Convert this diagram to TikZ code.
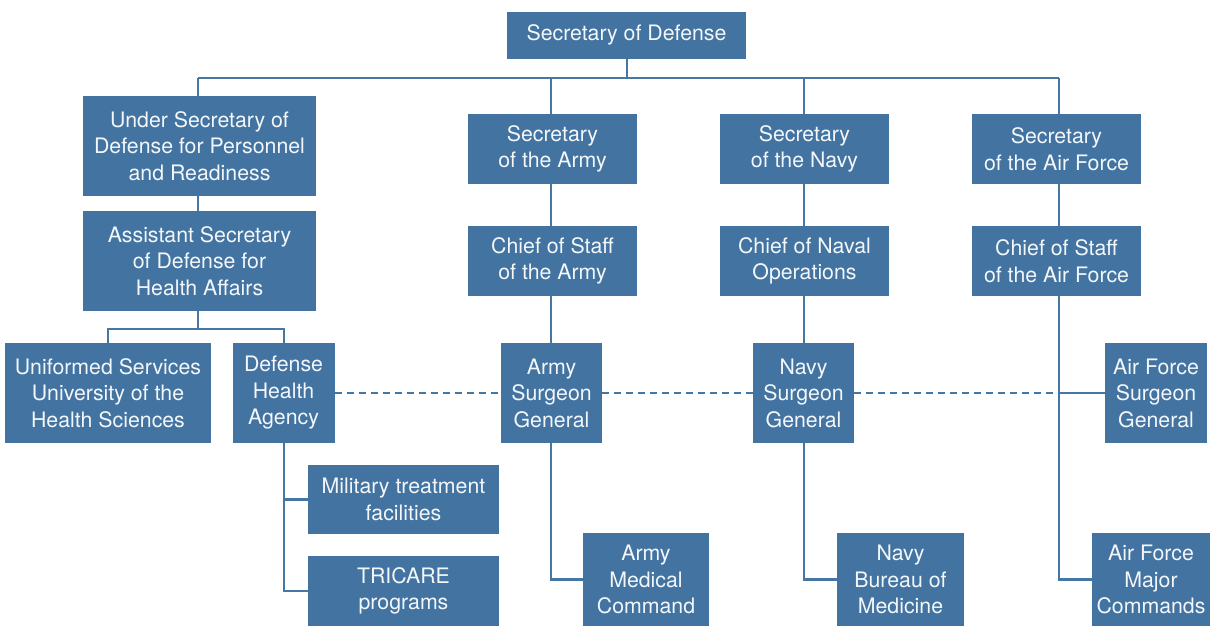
\documentclass[tikz,border=0pt]{standalone}
\usepackage{fontspec}
\setmainfont{TeX Gyre Heros}
\definecolor{boxblue}{HTML}{4273A1}
\definecolor{lineblue}{HTML}{4677A4}
\definecolor{boxtext}{HTML}{F4F7FA}
\begin{document}
\begin{tikzpicture}[x=1pt,y=-1pt,
  orgbox/.style={fill=boxblue, draw=none, text=boxtext, align=center, inner sep=0pt,
    font=\fontsize{21.3}{26.5}\selectfont},
  link/.style={draw=lineblue, line width=2.4pt},
  dotlink/.style={draw=lineblue, line width=2.4pt, dash pattern=on 7pt off 5pt}]
\useasboundingbox (0,0) rectangle (1215,627);

% top level
\node[orgbox, minimum width=239pt, minimum height=47pt] (sod) at (626.5,35) {Secretary of Defense};

% personnel and health branch
\node[orgbox, minimum width=233pt, minimum height=100pt] (usd) at (199.5,146) {Under Secretary of\\Defense for Personnel\\and Readiness};
\node[orgbox, minimum width=233pt, minimum height=100pt] (asd) at (199.5,261) {Assistant Secretary\\of Defense for\\Health Affairs};
\node[orgbox, minimum width=206pt, minimum height=100pt] (usu) at (108,393) {Uniformed Services\\University of the\\Health Sciences};
\node[orgbox, minimum width=102pt, minimum height=100pt] (dha) at (283.5,393) {Defense\\Health\\Agency};
\node[orgbox, minimum width=191pt, minimum height=69pt] (mtf) at (403.5,499.5) {Military treatment\\facilities};
\node[orgbox, minimum width=191pt, minimum height=70pt] (tri) at (403.5,591) {TRICARE\\programs};

% army
\node[orgbox, minimum width=169pt, minimum height=70pt] (sa) at (552.5,149) {Secretary\\of the Army};
\node[orgbox, minimum width=169pt, minimum height=70pt] (csa) at (552.5,261) {Chief of Staff\\of the Army};
\node[orgbox, minimum width=101pt, minimum height=100pt] (asg) at (551.5,393) {Army\\Surgeon\\General};
\node[orgbox, minimum width=126pt, minimum height=93pt] (amc) at (646,579.5) {Army\\Medical\\Command};

% navy
\node[orgbox, minimum width=169pt, minimum height=70pt] (sn) at (804.5,149) {Secretary\\of the Navy};
\node[orgbox, minimum width=169pt, minimum height=70pt] (cno) at (804.5,261) {Chief of Naval\\Operations};
\node[orgbox, minimum width=101pt, minimum height=100pt] (nsg) at (803.5,393) {Navy\\Surgeon\\General};
\node[orgbox, minimum width=127pt, minimum height=93pt] (bum) at (900.5,579.5) {Navy\\Bureau of\\Medicine};

% air force
\node[orgbox, minimum width=169pt, minimum height=70pt] (saf) at (1056.5,149) {Secretary\\of the Air Force};
\node[orgbox, minimum width=169pt, minimum height=70pt] (csaf) at (1056.5,261) {Chief of Staff\\of the Air Force};
\node[orgbox, minimum width=102pt, minimum height=100pt] (afsg) at (1156,393) {Air Force\\Surgeon\\General};
\node[orgbox, minimum width=118pt, minimum height=93pt] (afmc) at (1151,579.5) {Air Force\\Major\\Commands};

% column lines and buses
\coordinate (armyx) at (551,0);
\coordinate (navyx) at (804,0);
\coordinate (afx) at (1059,0);
\coordinate (busL) at (198,78);
\coordinate (busR) at (afx |- busL);
\coordinate (hbus) at (198,329);

\draw[link] (busL) -- (busR);
\draw[link] (sod.south -| 627,0) -- (627,78);
\draw[link] (busL) -- (usd.north -| busL);
\draw[link] (armyx |- busL) -- (sa.north -| armyx);
\draw[link] (navyx |- busL) -- (sn.north -| navyx);
\draw[link] (busR) -- (saf.north -| afx);

\draw[link] (usd.south -| hbus) -- (asd.north -| hbus);
\draw[link] (asd.south -| hbus) -- (hbus);
\draw[link] (usu.north) |- (hbus) -| (dha.north -| 284,0);
\draw[link] (dha.south -| 284,0) |- (tri.west);
\draw[link] (mtf.west -| 284,0) -- (mtf.west);

\draw[link] (sa.south -| armyx) -- (csa.north -| armyx);
\draw[link] (csa.south -| armyx) -- (asg.north -| armyx);
\draw[link] (asg.south -| armyx) |- (amc.west);

\draw[link] (sn.south -| navyx) -- (cno.north -| navyx);
\draw[link] (cno.south -| navyx) -- (nsg.north -| navyx);
\draw[link] (nsg.south -| navyx) |- (bum.west);

\draw[link] (saf.south -| afx) -- (csaf.north -| afx);
\draw[link] (csaf.south -| afx) |- (afmc.west);
\coordinate (afjoin) at (afx |- afsg.west);
\draw[link] (afjoin) -- (afsg.west);

\draw[dotlink] (dha.east) -- (asg.west);
\draw[dotlink] (asg.east) -- (nsg.west);
\draw[dotlink] (nsg.east) -- (afjoin);
\end{tikzpicture}
\end{document}
